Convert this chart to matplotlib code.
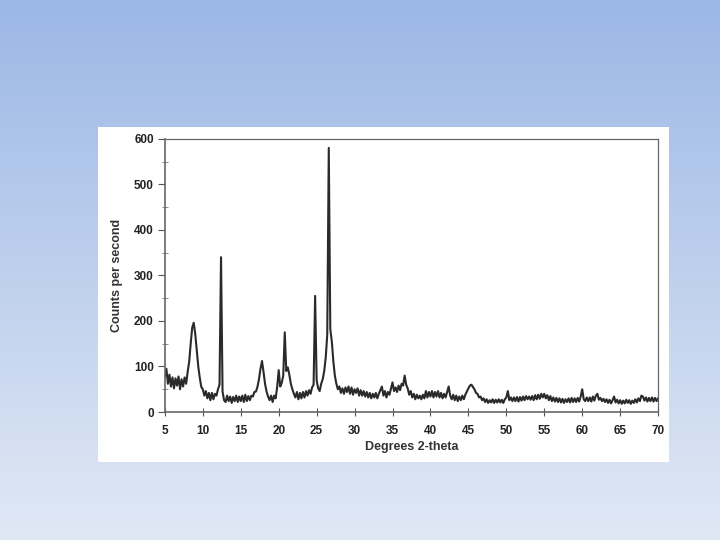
import numpy as np
import matplotlib
matplotlib.use("Agg")
import matplotlib.pyplot as plt
from matplotlib.patches import Rectangle
from matplotlib.ticker import MultipleLocator

plt.rcParams['font.family'] = ['Liberation Sans', 'DejaVu Sans']

# 2-theta sampled every 0.2 degrees from 5 to 70
two_theta = np.round(np.arange(5.0, 70.0001, 0.2), 1)

# counts per second, one row per 2 degrees
counts = [
    78, 95, 62, 82, 56, 76, 52, 74, 58, 78,          # 5
    50, 72, 56, 76, 62, 88, 110, 150, 185, 196,      # 7
    172, 135, 100, 75, 55, 50, 36, 46, 30, 42,       # 9
    26, 42, 28, 40, 36, 50, 60, 340, 45, 26,         # 11
    22, 36, 24, 34, 20, 33, 24, 36, 22, 34,          # 13
    24, 36, 22, 38, 24, 35, 26, 36, 34, 44,          # 15
    45, 55, 72, 95, 112, 88, 62, 45, 34, 26,         # 17
    36, 22, 36, 30, 55, 92, 56, 64, 80, 175,         # 19
    90, 98, 82, 62, 50, 40, 32, 44, 28, 42,          # 21
    30, 44, 32, 46, 36, 48, 40, 54, 60, 255,         # 23
    70, 52, 46, 62, 72, 90, 120, 170, 580, 182,      # 25
    155, 112, 80, 62, 50, 56, 42, 52, 40, 54,        # 27
    44, 56, 40, 54, 38, 50, 42, 52, 36, 48,          # 29
    36, 46, 34, 44, 32, 42, 30, 40, 32, 42,          # 31
    30, 40, 48, 56, 36, 46, 32, 44, 38, 52,          # 33
    65, 46, 54, 44, 58, 48, 62, 58, 80, 60,          # 35
    52, 38, 46, 32, 40, 28, 38, 30, 36, 28,          # 37
    38, 30, 46, 32, 44, 34, 46, 32, 44, 34,          # 39
    46, 32, 42, 30, 40, 32, 44, 56, 36, 28,          # 41
    38, 26, 36, 24, 34, 26, 36, 28, 38, 45,          # 43
    52, 58, 60, 55, 50, 42, 40, 32, 34, 26,          # 45
    30, 22, 28, 20, 26, 21, 28, 20, 27, 21,          # 47
    28, 21, 27, 20, 28, 32, 46, 26, 32, 24,          # 49
    32, 24, 33, 23, 33, 25, 34, 26, 35, 28,          # 51
    34, 27, 35, 26, 37, 28, 38, 29, 40, 32,          # 53
    40, 30, 37, 26, 35, 24, 32, 23, 31, 22,          # 55
    30, 21, 29, 20, 28, 22, 30, 21, 31, 22,          # 57
    30, 22, 31, 23, 34, 50, 28, 24, 32, 24,          # 59
    32, 23, 34, 25, 36, 40, 27, 31, 24, 29,          # 61
    22, 28, 20, 27, 19, 26, 34, 21, 27, 19,          # 63
    26, 18, 25, 19, 27, 20, 26, 18, 25, 20,          # 65
    28, 21, 30, 24, 36, 34, 25, 32, 23, 31,          # 67
    24, 32, 23, 31, 24, 30,                          # 69
]

fig = plt.figure(figsize=(7.2, 5.4), dpi=100)

# slide background: blue gradient
bg = fig.add_axes([0, 0, 1, 1], zorder=-10)
grad = np.linspace(0, 1, 256).reshape(-1, 1)
top = np.array([0.61, 0.72, 0.90])
bottom = np.array([0.88, 0.91, 0.96])
img = top + (bottom - top) * grad[:, :, None]
bg.imshow(img, aspect='auto', extent=[0, 1, 0, 1])
bg.axis('off')

# white picture panel
fig.patches.append(Rectangle((0.136, 0.144), 0.793, 0.621, transform=fig.transFigure,
                             facecolor='white', edgecolor='none', zorder=-5))

ax = fig.add_axes([0.229, 0.237, 0.685, 0.506])
ax.plot(two_theta, counts, color='#2a2a2a', lw=1.5)

ax.set_xlim(5, 70)
ax.set_ylim(0, 600)
ax.set_xticks(range(5, 71, 5))
ax.set_yticks(range(0, 601, 100))
ax.yaxis.set_minor_locator(MultipleLocator(50))
ax.tick_params(axis='x', direction='inout', length=6, width=0.8, colors='#555',
               labelcolor='#222', labelsize=8.5, pad=6)
ax.tick_params(axis='y', which='major', direction='out', length=5, width=0.8,
               colors='#555', labelcolor='#222', labelsize=8.5, pad=3)
ax.tick_params(axis='y', which='minor', direction='inout', length=4, width=0.6, colors='#777')
for lab in ax.get_xticklabels() + ax.get_yticklabels():
    lab.set_fontweight('bold')
for s in ax.spines.values():
    s.set_color('#666')
    s.set_linewidth(0.9)
ax.spines['bottom'].set_linewidth(1.2)
ax.spines['left'].set_linewidth(1.2)

ax.set_xlabel('Degrees 2-theta', fontsize=9, fontweight='bold', color='#333', labelpad=3)
ax.set_ylabel('Counts per second', fontsize=9, fontweight='bold', color='#333', labelpad=8)

fig.savefig('out.png', dpi=100)
